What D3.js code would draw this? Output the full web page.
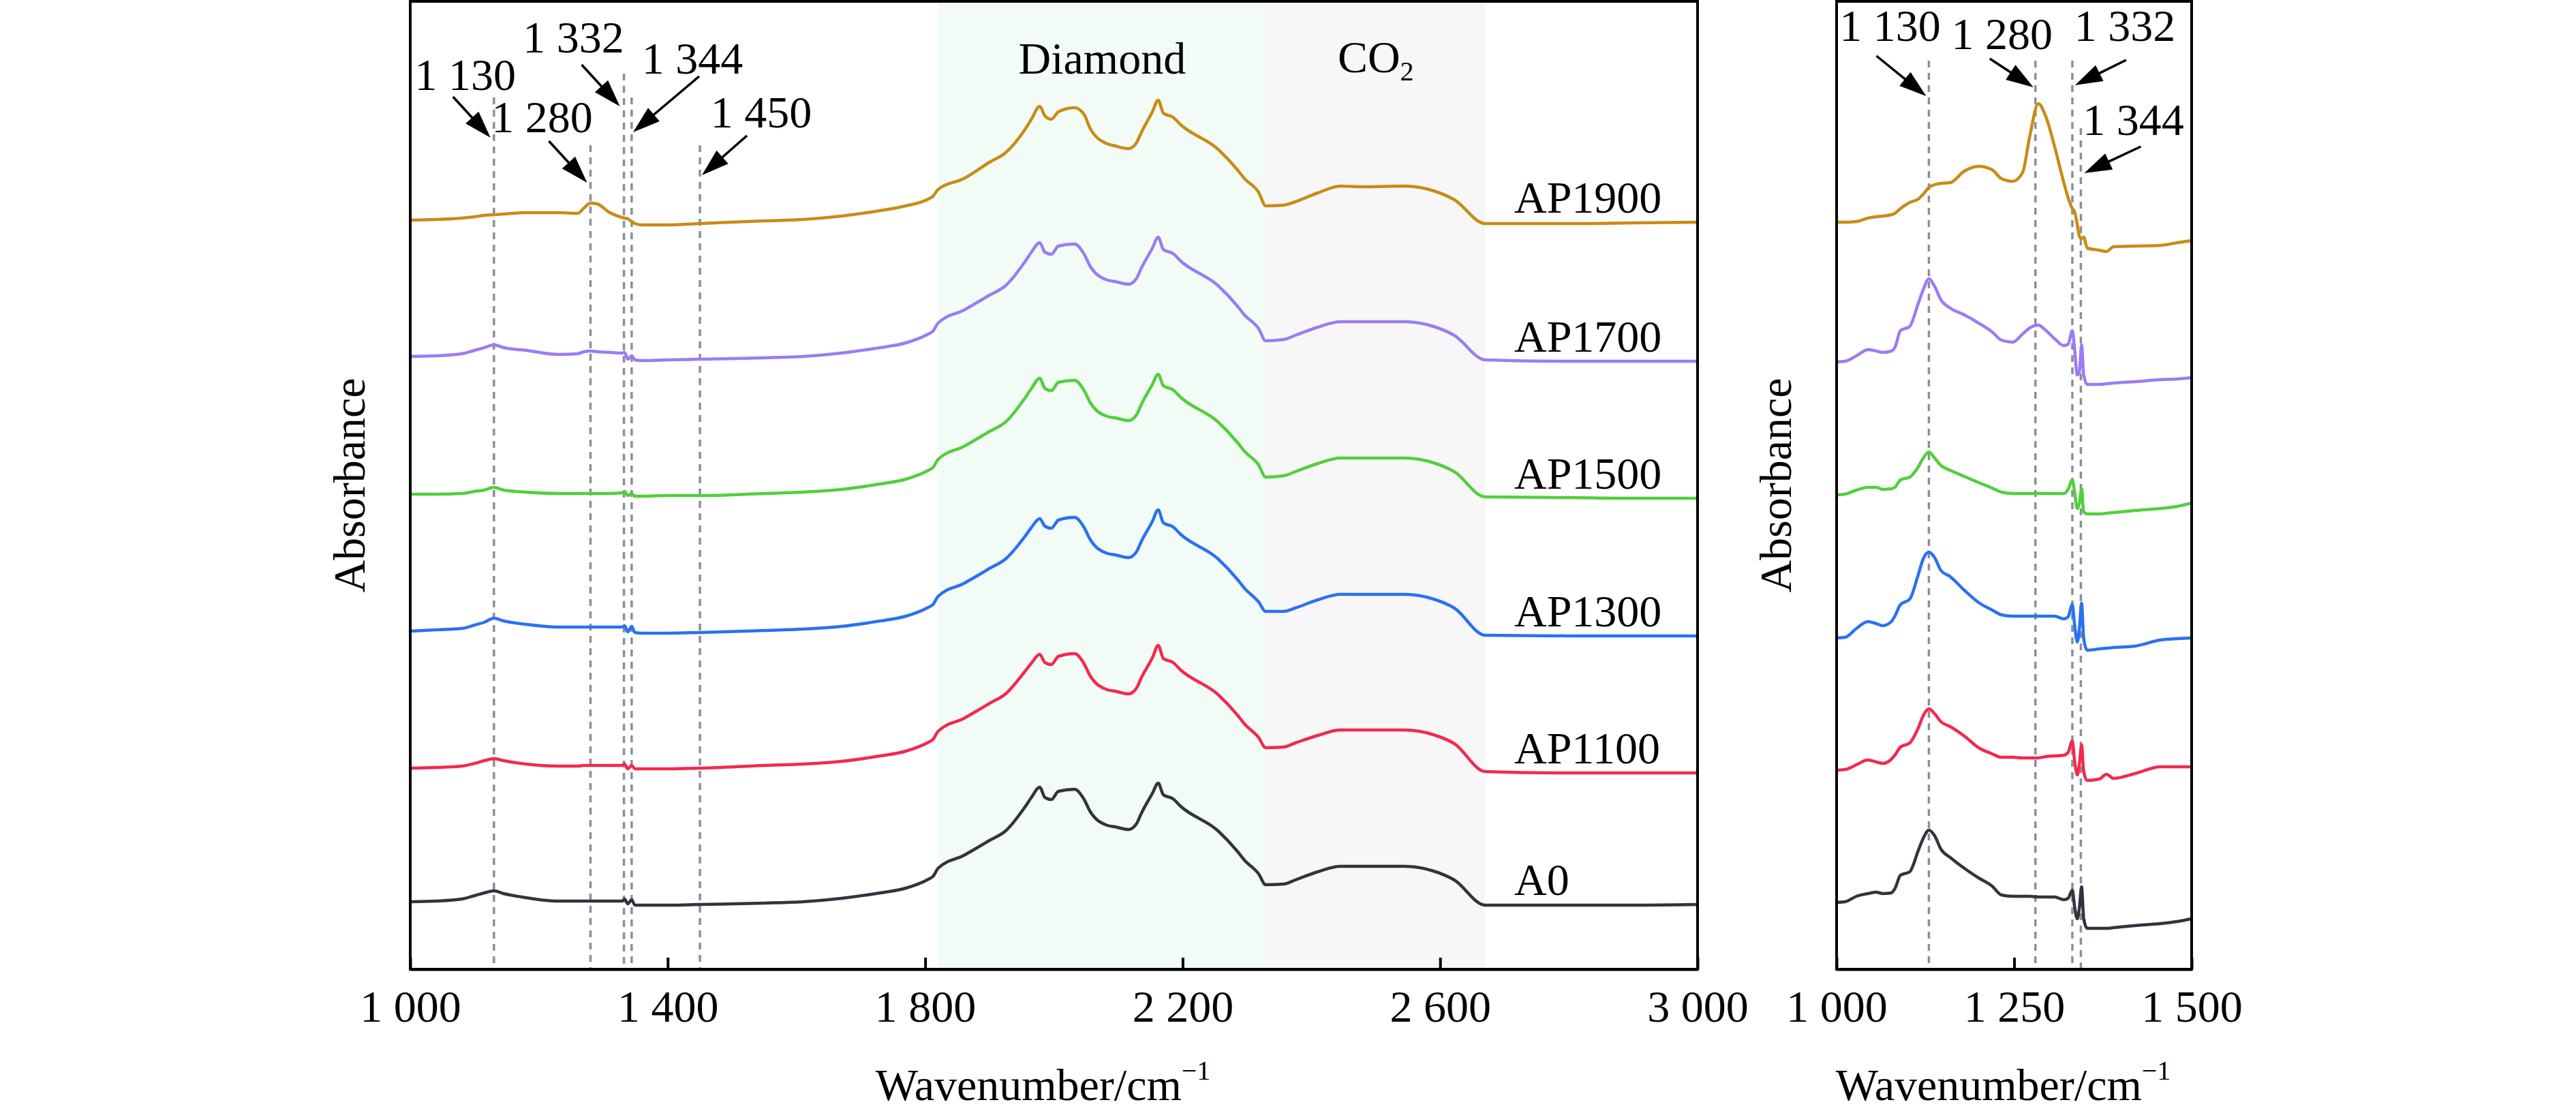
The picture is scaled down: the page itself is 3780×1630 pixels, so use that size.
<!DOCTYPE html>
<html lang="en">
<head>
    <meta charset="UTF-8">
    <title>FTIR spectra</title>
    <script src="https://d3js.org/d3.v7.min.js"></script>
    <style>
        body {
            margin: 0;
            background: #ffffff;
        }
        text {
            font-family: "Liberation Serif", "Times New Roman", serif;
            fill: #000;
        }
    </style>
</head>
<body>
    <svg id="chart" width="3780" height="1630"></svg>
    <script>
        // sample names, top to bottom
        const series = ["AP1900", "AP1700", "AP1500", "AP1300", "AP1100", "A0"];
        const colors = ["#c98b17", "#9b7cf3", "#52cf3c", "#2a71f2", "#f2294f", "#33333f"];

        // left panel: wavenumber grid (cm-1)
        const leftWn = [
            1000, 1040, 1080, 1100, 1115, 1130, 1145, 1180, 1230, 1260,
            1270, 1280, 1290, 1310, 1329, 1333, 1338, 1344, 1349, 1360,
            1400, 1450, 1550, 1610, 1670, 1730, 1770, 1805, 1812, 1820,
            1860, 1900, 1925, 1955, 1965, 1978, 1986, 1996, 2007, 2032,
            2047, 2056, 2083, 2095, 2116, 2128, 2136, 2153, 2162, 2170,
            2185, 2197, 2255, 2285, 2296, 2318, 2329, 2357, 2375, 2410,
            2445, 2480, 2545, 2590, 2622, 2670, 2800, 2900, 3000
        ];

        // left panel: stacked absorbance (a.u.)
        const ap1900Left = [
            10.99, 11.00, 11.02, 11.04, 11.06, 11.07, 11.08, 11.10, 11.10, 11.09,
            11.17, 11.24, 11.23, 11.10, 11.03, 11.02, 11.01, 10.97, 10.94, 10.92,
            10.92, 10.94, 10.98, 11.00, 11.05, 11.13, 11.20, 11.30, 11.34, 11.44,
            11.60, 11.84, 11.98, 12.32, 12.47, 12.66, 12.52, 12.47, 12.58, 12.64,
            12.54, 12.34, 12.11, 12.08, 12.04, 12.12, 12.28, 12.58, 12.75, 12.56,
            12.50, 12.39, 12.03, 11.73, 11.60, 11.40, 11.20, 11.21, 11.26, 11.39,
            11.49, 11.48, 11.49, 11.42, 11.29, 10.94, 10.94, 10.95, 10.96
        ];
        const ap1700Left = [
            8.99, 9.00, 9.03, 9.08, 9.12, 9.16, 9.12, 9.08, 9.02, 9.03,
            9.06, 9.07, 9.06, 9.05, 9.04, 9.05, 8.95, 9.00, 8.94, 8.93,
            8.94, 8.95, 8.97, 8.99, 9.04, 9.12, 9.19, 9.32, 9.36, 9.48,
            9.67, 9.89, 10.03, 10.38, 10.52, 10.66, 10.52, 10.49, 10.61, 10.64,
            10.49, 10.32, 10.11, 10.09, 10.05, 10.13, 10.29, 10.58, 10.74, 10.56,
            10.50, 10.39, 10.03, 9.73, 9.60, 9.40, 9.22, 9.24, 9.30, 9.42,
            9.50, 9.50, 9.50, 9.43, 9.30, 8.94, 8.92, 8.92, 8.92
        ];
        const ap1500Left = [
            6.97, 6.97, 6.98, 7.01, 7.03, 7.07, 7.03, 7.00, 6.98, 6.98,
            6.98, 6.98, 6.98, 6.98, 6.99, 7.01, 6.95, 6.98, 6.94, 6.94,
            6.95, 6.95, 6.98, 7.00, 7.04, 7.12, 7.19, 7.32, 7.36, 7.48,
            7.67, 7.89, 8.03, 8.38, 8.52, 8.67, 8.52, 8.49, 8.61, 8.64,
            8.49, 8.32, 8.11, 8.09, 8.05, 8.13, 8.29, 8.58, 8.73, 8.56,
            8.50, 8.39, 8.03, 7.73, 7.60, 7.40, 7.22, 7.24, 7.30, 7.42,
            7.50, 7.50, 7.50, 7.43, 7.30, 6.93, 6.92, 6.91, 6.91
        ];
        const ap1300Left = [
            4.96, 4.98, 5.00, 5.05, 5.09, 5.15, 5.11, 5.06, 5.02, 5.02,
            5.02, 5.02, 5.02, 5.02, 5.02, 5.04, 4.95, 5.03, 4.94, 4.93,
            4.93, 4.94, 4.97, 4.99, 5.03, 5.11, 5.18, 5.31, 5.35, 5.47,
            5.66, 5.88, 6.02, 6.35, 6.48, 6.61, 6.50, 6.47, 6.59, 6.63,
            6.48, 6.31, 6.10, 6.08, 6.04, 6.12, 6.28, 6.57, 6.74, 6.55,
            6.49, 6.38, 6.02, 5.72, 5.59, 5.39, 5.25, 5.25, 5.30, 5.42,
            5.50, 5.50, 5.50, 5.43, 5.30, 4.90, 4.89, 4.89, 4.89
        ];
        const ap1100Left = [
            2.95, 2.96, 2.98, 3.02, 3.06, 3.09, 3.06, 3.01, 2.98, 2.98,
            2.99, 2.99, 2.99, 2.99, 2.99, 3.01, 2.94, 2.99, 2.94, 2.94,
            2.94, 2.95, 2.99, 3.01, 3.05, 3.13, 3.20, 3.33, 3.37, 3.49,
            3.68, 3.90, 4.04, 4.37, 4.49, 4.62, 4.50, 4.47, 4.59, 4.63,
            4.48, 4.31, 4.10, 4.08, 4.04, 4.12, 4.28, 4.57, 4.75, 4.56,
            4.50, 4.39, 4.03, 3.73, 3.60, 3.40, 3.25, 3.26, 3.32, 3.43,
            3.51, 3.51, 3.51, 3.44, 3.31, 2.90, 2.88, 2.88, 2.88
        ];
        const a0Left = [
            0.99, 1.00, 1.03, 1.08, 1.12, 1.15, 1.11, 1.05, 1.00, 1.00,
            1.00, 1.00, 1.00, 1.00, 1.00, 1.03, 0.96, 1.02, 0.94, 0.94,
            0.94, 0.95, 0.97, 0.99, 1.04, 1.12, 1.19, 1.32, 1.36, 1.48,
            1.67, 1.89, 2.03, 2.38, 2.52, 2.67, 2.52, 2.49, 2.61, 2.64,
            2.49, 2.32, 2.11, 2.09, 2.05, 2.13, 2.29, 2.58, 2.73, 2.56,
            2.50, 2.39, 2.03, 1.73, 1.60, 1.40, 1.24, 1.25, 1.31, 1.43,
            1.51, 1.51, 1.51, 1.44, 1.31, 0.94, 0.94, 0.94, 0.95
        ];

        // right panel: wavenumber grid (cm-1)
        const rightWn = [
            1000, 1012, 1028, 1044, 1056, 1065, 1077, 1082, 1090, 1103,
            1115, 1122, 1130, 1138, 1147, 1160, 1180, 1200, 1219, 1232,
            1248, 1262, 1272, 1284, 1295, 1307, 1320, 1326, 1332, 1335,
            1339, 1342, 1345, 1348, 1353, 1370, 1380, 1390, 1420, 1456,
            1480, 1500
        ];

        const ap1900Right = [
            10.96, 10.96, 10.97, 11.02, 11.04, 11.05, 11.07, 11.09, 11.16, 11.25,
            11.30, 11.37, 11.47, 11.51, 11.53, 11.54, 11.71, 11.78, 11.73, 11.60,
            11.56, 11.69, 12.22, 12.70, 12.50, 12.07, 11.54, 11.32, 11.16, 11.12,
            10.92, 10.75, 10.72, 10.74, 10.58, 10.55, 10.53, 10.60, 10.61, 10.62,
            10.66, 10.69
        ];
        const ap1700Right = [
            8.91, 8.92, 9.00, 9.09, 9.07, 9.05, 9.07, 9.12, 9.37, 9.43,
            9.77, 9.97, 10.13, 10.02, 9.82, 9.70, 9.60, 9.48, 9.35, 9.23,
            9.20, 9.32, 9.41, 9.45, 9.37, 9.25, 9.15, 9.17, 9.37, 9.12,
            8.72, 8.77, 9.16, 8.72, 8.58, 8.58, 8.59, 8.60, 8.62, 8.65,
            8.66, 8.68
        ];
        const ap1500Right = [
            6.96, 6.97, 7.03, 7.07, 7.07, 7.04, 7.05, 7.07, 7.18, 7.22,
            7.37, 7.50, 7.59, 7.50, 7.39, 7.32, 7.23, 7.14, 7.06, 7.00,
            6.98, 6.98, 6.98, 6.98, 6.98, 6.98, 6.98, 7.04, 7.18, 7.01,
            6.76, 6.84, 7.05, 6.71, 6.68, 6.68, 6.69, 6.70, 6.73, 6.76,
            6.79, 6.84
        ];
        const ap1300Right = [
            4.86, 4.87, 5.00, 5.10, 5.07, 5.04, 5.10, 5.18, 5.35, 5.43,
            5.79, 6.02, 6.12, 6.04, 5.85, 5.76, 5.56, 5.38, 5.27, 5.20,
            5.18, 5.18, 5.18, 5.18, 5.18, 5.18, 5.14, 5.17, 5.35, 5.07,
            4.80, 5.01, 5.37, 4.85, 4.68, 4.70, 4.71, 4.72, 4.74, 4.83,
            4.85, 4.86
        ];
        const ap1100Right = [
            2.92, 2.93, 3.00, 3.07, 3.04, 3.02, 3.08, 3.14, 3.26, 3.32,
            3.54, 3.72, 3.82, 3.75, 3.63, 3.56, 3.42, 3.25, 3.16, 3.11,
            3.11, 3.10, 3.10, 3.10, 3.12, 3.13, 3.14, 3.18, 3.35, 3.07,
            2.85, 3.02, 3.29, 2.90, 2.77, 2.79, 2.86, 2.80, 2.87, 2.97,
            2.97, 2.97
        ];
        const a0Right = [
            0.98, 0.99, 1.07, 1.11, 1.13, 1.11, 1.12, 1.18, 1.38, 1.43,
            1.74, 1.92, 2.04, 1.96, 1.76, 1.64, 1.48, 1.34, 1.22, 1.09,
            1.07, 1.07, 1.07, 1.06, 1.06, 1.06, 1.02, 1.04, 1.16, 0.93,
            0.74, 0.91, 1.21, 0.74, 0.60, 0.60, 0.60, 0.61, 0.64, 0.67,
            0.70, 0.74
        ];

        const leftSeries = [ap1900Left, ap1700Left, ap1500Left, ap1300Left, ap1100Left, a0Left];
        const rightSeries = [ap1900Right, ap1700Right, ap1500Right, ap1300Right, ap1100Right, a0Right];

        // axis ticks
        const leftTicks = [1000, 1400, 1800, 2200, 2600, 3000];
        const rightTicks = [1000, 1250, 1500];

        // shaded bands
        const bands = [
            { name: "Diamond", from: 1820, to: 2330, fill: "#f2fbf5" },
            { name: "CO2", from: 2330, to: 2670, fill: "#f7f7f7" }
        ];

        // peak markers: wavenumber, top of dashed line, label / arrow offsets (px)
        const leftMarks = [
            { wn: 1130, top: 12.79, lx: -42, ly: -11, a: [-60, -1, -5, 59] },
            { wn: 1280, top: 12.09, lx: -71, ly: -19, a: [-61, -6, -5, 55] },
            { wn: 1332, top: 13.14, lx: -74, ly: -31, a: [-62, -13, -6, 48] },
            { wn: 1344, top: 12.79, lx: 89, ly: -35, a: [99, -31, 2, 51] },
            { wn: 1450, top: 12.09, lx: 90, ly: -26, a: [69, -14, 3, 44] }
        ];
        const rightMarks = [
            { wn: 1130, top: 13.33, lx: -57, ly: -29, a: [-77, -7, -4, 52] },
            { wn: 1280, top: 13.33, lx: -49, ly: -17, a: [-67, -3, -3, 39] },
            { wn: 1332, top: 13.33, lx: 77, ly: -29, a: [79, -1, 4, 36] },
            { wn: 1344, top: 12.34, lx: 77, ly: 10, a: [88, 27, 5, 66] }
        ];

        const svg = d3.select("#chart");
        const plotTop = 2, plotBottom = 1422;
        const fs = 66;
        const fmt = d3.formatLocale({ decimal: ".", thousands: " ", grouping: [3], currency: ["", ""] }).format(",");

        const y = d3.scaleLinear().domain([0, 14.2]).range([plotBottom, plotTop]);
        const xL = d3.scaleLinear().domain([1000, 3000]).range([602, 2491]);
        const xR = d3.scaleLinear().domain([1000, 1500]).range([2695, 3216]);

        function arrow(g, x0, y0, x1, y1) {
            const dx = x1 - x0, dy = y1 - y0;
            const len = Math.hypot(dx, dy);
            const ux = dx / len, uy = dy / len;
            const hl = 40, hw = 13;
            const bx = x1 - ux * hl, by = y1 - uy * hl;
            g.append("line")
                .attr("x1", x0).attr("y1", y0)
                .attr("x2", bx + ux * 4).attr("y2", by + uy * 4)
                .attr("stroke", "#000")
                .attr("stroke-width", 3.5);
            g.append("path")
                .attr("d", `M${x1},${y1}L${bx - uy * hw},${by + ux * hw}L${bx + uy * hw},${by - ux * hw}Z`)
                .attr("fill", "#000");
        }

        function panel(id, x, ticks, wn, data, marks, withBands, withLabels) {
            const [x0, x1] = x.range();
            const g = svg.append("g");

            g.append("clipPath").attr("id", id)
                .append("rect")
                .attr("x", x0).attr("y", plotTop)
                .attr("width", x1 - x0).attr("height", plotBottom - plotTop);

            if (withBands) {
                g.selectAll(".band")
                    .data(bands)
                    .enter().append("rect")
                    .attr("x", d => x(d.from))
                    .attr("y", plotTop)
                    .attr("width", d => x(d.to) - x(d.from))
                    .attr("height", plotBottom - plotTop)
                    .attr("fill", d => d.fill);
            }

            // dashed marker lines
            g.selectAll(".mark")
                .data(marks)
                .enter().append("line")
                .attr("x1", d => x(d.wn)).attr("x2", d => x(d.wn))
                .attr("y1", d => y(d.top)).attr("y2", plotBottom)
                .attr("stroke", "#8a9099")
                .attr("stroke-width", 3.5)
                .attr("stroke-dasharray", "10 8");

            const line = d3.line()
                .x((d, i) => x(wn[i]))
                .y(d => y(d))
                .curve(d3.curveMonotoneX);

            g.append("g").attr("clip-path", `url(#${id})`)
                .selectAll("path")
                .data(data)
                .enter().append("path")
                .attr("d", line)
                .attr("fill", "none")
                .attr("stroke", (d, i) => colors[i])
                .attr("stroke-width", 4.5)
                .attr("stroke-linejoin", "round");

            // peak labels and arrows
            marks.forEach(m => {
                const px = x(m.wn), py = y(m.top);
                g.append("text")
                    .attr("x", px + m.lx)
                    .attr("y", py + m.ly)
                    .attr("text-anchor", "middle")
                    .attr("font-size", fs)
                    .text(fmt(m.wn));
                arrow(g, px + m.a[0], py + m.a[1], px + m.a[2], py + m.a[3]);
            });

            if (withLabels) {
                g.selectAll(".sname")
                    .data(series)
                    .enter().append("text")
                    .attr("x", 2222)
                    .attr("y", (d, i) => y(data[i][data[i].length - 1]) - 14)
                    .attr("font-size", fs)
                    .text(d => d);

                const bl = g.append("g").attr("font-size", fs).attr("text-anchor", "middle");
                bl.append("text")
                    .attr("x", x((bands[0].from + bands[0].to) / 2))
                    .attr("y", 108)
                    .text("Diamond");
                const co = bl.append("text")
                    .attr("x", x((bands[1].from + bands[1].to) / 2))
                    .attr("y", 106);
                co.append("tspan").text("CO");
                co.append("tspan").attr("font-size", 40).attr("dy", 12).text("2");
            }

            // frame
            g.append("rect")
                .attr("x", x0).attr("y", plotTop)
                .attr("width", x1 - x0).attr("height", plotBottom - plotTop)
                .attr("fill", "none")
                .attr("stroke", "#000")
                .attr("stroke-width", 4);

            // x axis
            const ax = g.append("g")
                .attr("transform", `translate(0,${plotBottom})`)
                .call(d3.axisBottom(x).tickValues(ticks).tickFormat(fmt)
                    .tickSizeInner(-17).tickSizeOuter(0).tickPadding(30));
            ax.select(".domain").attr("stroke-width", 4);
            ax.selectAll(".tick line").attr("stroke-width", 4);
            ax.selectAll(".tick text")
                .attr("font-size", fs)
                .attr("font-family", "Liberation Serif, Times New Roman, serif")
                .attr("fill", "#000");

            // axis titles
            const xt = g.append("text")
                .attr("x", (x0 + x1) / 2 - 16)
                .attr("y", 1614)
                .attr("text-anchor", "middle")
                .attr("font-size", fs);
            xt.append("tspan").text("Wavenumber/cm");
            xt.append("tspan").attr("font-size", 40).attr("dy", -30).text("\u22121");

            g.append("text")
                .attr("transform", `translate(${x0 - 67},${(plotTop + plotBottom) / 2}) rotate(-90)`)
                .attr("text-anchor", "middle")
                .attr("font-size", fs)
                .text("Absorbance");
        }

        panel("clipL", xL, leftTicks, leftWn, leftSeries, leftMarks, true, true);
        panel("clipR", xR, rightTicks, rightWn, rightSeries, rightMarks, false, false);
    </script>
</body>
</html>
